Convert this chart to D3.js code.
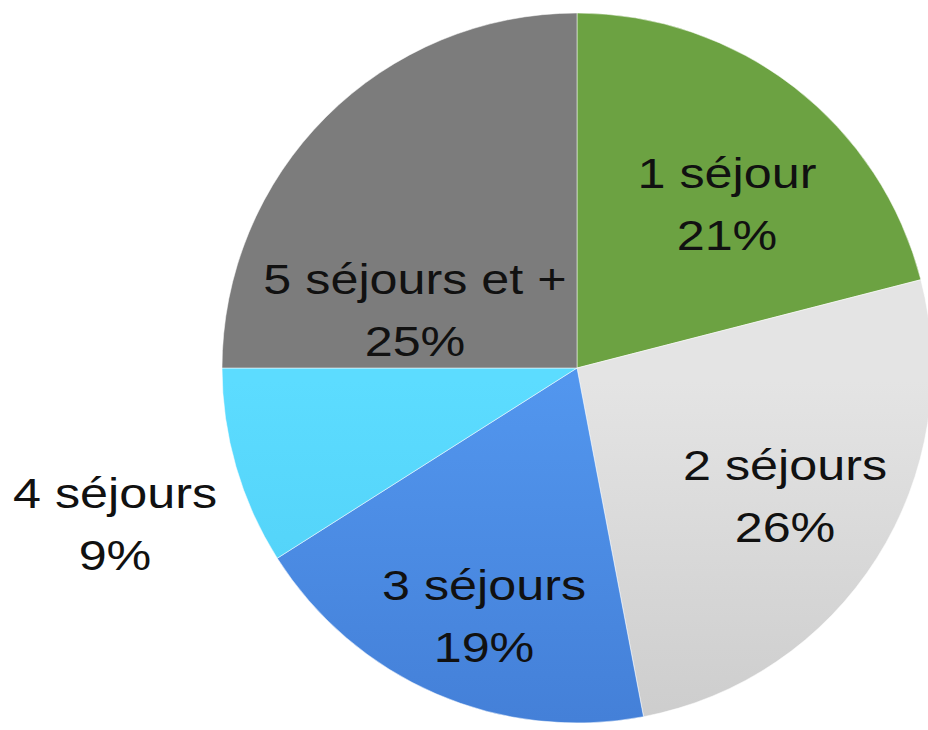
<!DOCTYPE html>
<html>
<head>
<meta charset="utf-8">
<script src="https://cdn.jsdelivr.net/npm/d3@7"></script>
<style>
    html, body { margin: 0; padding: 0; background: #fff; }
    .label { font-family: "Liberation Sans", Arial, sans-serif; font-size: 43px; fill: #111; }
</style>
</head>
<body>
<div id="chart"></div>
<script>
'use strict';
// slices, clockwise from 12 o'clock
var categories = ["1 séjour", "2 séjours", "3 séjours", "4 séjours", "5 séjours et +"];
var values = [21, 26, 19, 9, 25];
var percentLabels = ["21%", "26%", "19%", "9%", "25%"];

// light (top) / dark (bottom) shades of each slice
var topColors = ["#6ca242", "#e4e4e4", "#5296ee", "#5cdcff", "#7c7c7c"];
var bottomColors = ["#527c2e", "#b4b4b4", "#3568c0", "#3cbce8", "#3a3a3a"];

// label block centres relative to the pie centre (layout, not data)
var labelOffsets = [[150, -180], [208, 112], [-93, 232], [-462, 140], [-162, -74]];

var width = 928, height = 730;
var cx = 577, cy = 368, radius = 355;

var svg = d3.select("#chart").append("svg")
    .attr("width", width)
    .attr("height", height);

var defs = svg.append("defs");
categories.forEach(function(c, i){
    var g = defs.append("linearGradient")
        .attr("id", "grad" + i)
        .attr("gradientUnits", "userSpaceOnUse")
        .attr("x1", 0).attr("y1", cy - radius)
        .attr("x2", 0).attr("y2", cy + radius);
    g.append("stop").attr("offset", "0%").attr("stop-color", topColors[i]);
    g.append("stop").attr("offset", "100%").attr("stop-color", bottomColors[i]);
});

var pie = d3.pie().sort(null).value(function(d){ return d; });
var arc = d3.arc().innerRadius(0).outerRadius(radius);

var g = svg.append("g").attr("transform", "translate(" + cx + "," + cy + ")");

g.selectAll("path.slice")
    .data(pie(values))
    .enter().append("path")
    .attr("class", "slice")
    .attr("d", arc)
    .attr("fill", function(d, i){ return "url(#grad" + i + ")"; })
    .attr("stroke", "rgba(255,255,255,0.5)")
    .attr("stroke-width", 1);

// labels: two lines, stretched horizontally like the original picture
var lineGap = 62;
var labels = g.selectAll("g.label")
    .data(categories)
    .enter().append("g")
    .attr("class", "label")
    .attr("transform", function(d, i){
        return "translate(" + labelOffsets[i][0] + "," + labelOffsets[i][1] + ") scale(1.17,1)";
    });

labels.append("text")
    .attr("class", "label")
    .attr("text-anchor", "middle")
    .attr("y", -lineGap / 2 + 31)
    .text(function(d){ return d; });

labels.append("text")
    .attr("class", "label")
    .attr("text-anchor", "middle")
    .attr("y", lineGap / 2 + 31)
    .text(function(d, i){ return percentLabels[i]; });
</script>
</body>
</html>
